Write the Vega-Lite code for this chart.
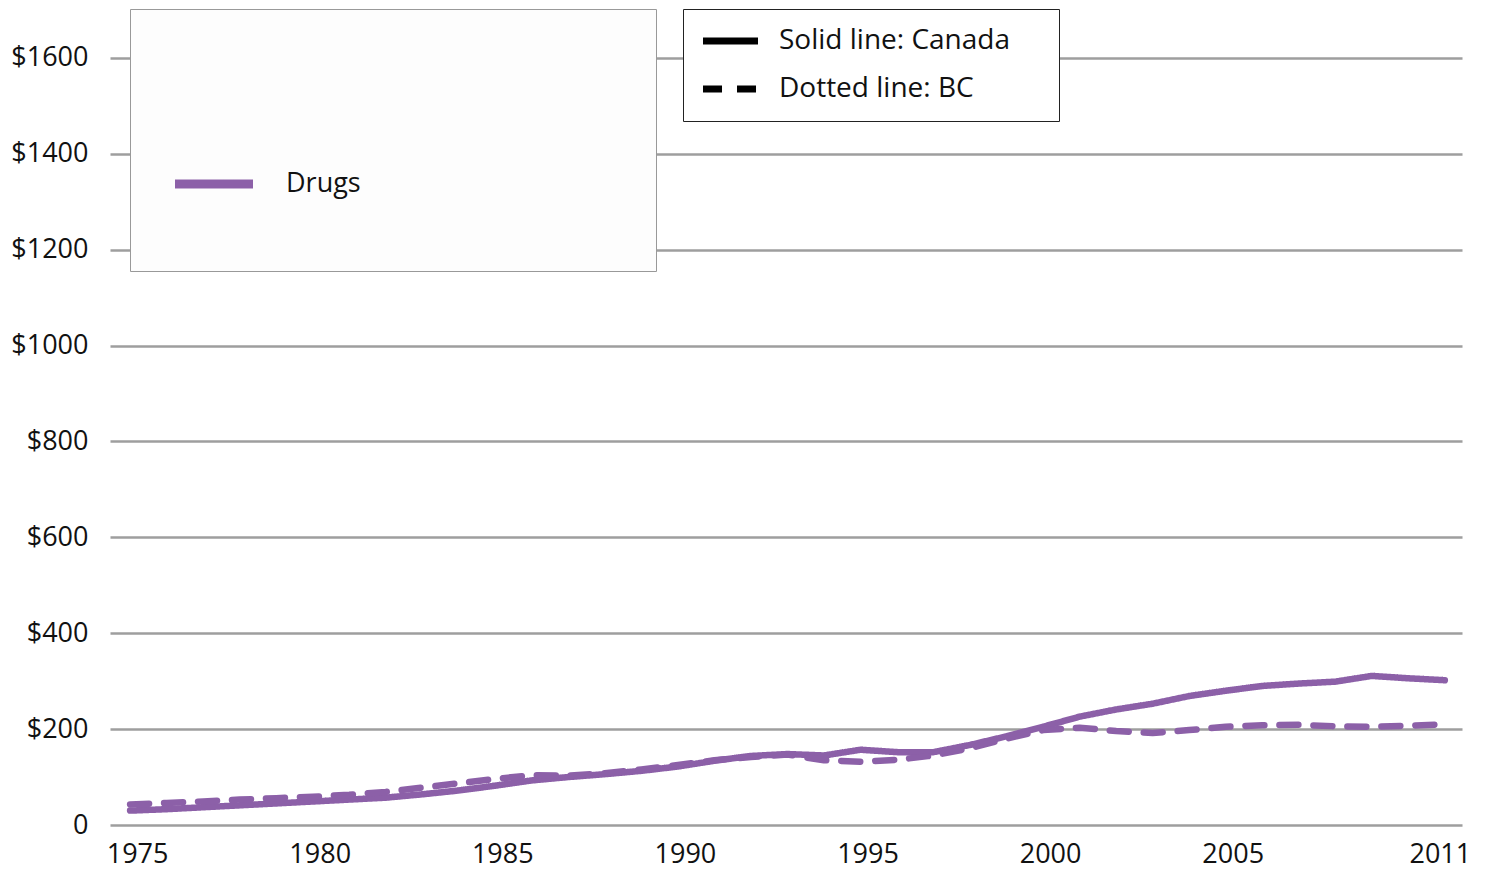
{
  "$schema": "https://vega.github.io/schema/vega-lite/v6.json",
  "width": 1352,
  "height": 815,
  "autosize": "none",
  "padding": {"left": 110, "top": 10, "right": 25, "bottom": 46},
  "background": "white",
  "config": {
    "font": "Open Sans",
    "view": {"stroke": null}
  },
  "data": {
    "values": [
      {"year":1975,"region":"Canada","cat":"Drugs","cost":30},
      {"year":1976,"region":"Canada","cat":"Drugs","cost":33},
      {"year":1977,"region":"Canada","cat":"Drugs","cost":37},
      {"year":1978,"region":"Canada","cat":"Drugs","cost":41},
      {"year":1979,"region":"Canada","cat":"Drugs","cost":45},
      {"year":1980,"region":"Canada","cat":"Drugs","cost":49},
      {"year":1981,"region":"Canada","cat":"Drugs","cost":53},
      {"year":1982,"region":"Canada","cat":"Drugs","cost":57},
      {"year":1983,"region":"Canada","cat":"Drugs","cost":64},
      {"year":1984,"region":"Canada","cat":"Drugs","cost":72},
      {"year":1985,"region":"Canada","cat":"Drugs","cost":82},
      {"year":1986,"region":"Canada","cat":"Drugs","cost":93},
      {"year":1987,"region":"Canada","cat":"Drugs","cost":100},
      {"year":1988,"region":"Canada","cat":"Drugs","cost":106},
      {"year":1989,"region":"Canada","cat":"Drugs","cost":113},
      {"year":1990,"region":"Canada","cat":"Drugs","cost":122},
      {"year":1991,"region":"Canada","cat":"Drugs","cost":134},
      {"year":1992,"region":"Canada","cat":"Drugs","cost":144},
      {"year":1993,"region":"Canada","cat":"Drugs","cost":148},
      {"year":1994,"region":"Canada","cat":"Drugs","cost":145},
      {"year":1995,"region":"Canada","cat":"Drugs","cost":157},
      {"year":1996,"region":"Canada","cat":"Drugs","cost":152},
      {"year":1997,"region":"Canada","cat":"Drugs","cost":152},
      {"year":1998,"region":"Canada","cat":"Drugs","cost":167},
      {"year":1999,"region":"Canada","cat":"Drugs","cost":185},
      {"year":2000,"region":"Canada","cat":"Drugs","cost":205},
      {"year":2001,"region":"Canada","cat":"Drugs","cost":226},
      {"year":2002,"region":"Canada","cat":"Drugs","cost":241},
      {"year":2003,"region":"Canada","cat":"Drugs","cost":253},
      {"year":2004,"region":"Canada","cat":"Drugs","cost":269},
      {"year":2005,"region":"Canada","cat":"Drugs","cost":280},
      {"year":2006,"region":"Canada","cat":"Drugs","cost":290},
      {"year":2007,"region":"Canada","cat":"Drugs","cost":295},
      {"year":2008,"region":"Canada","cat":"Drugs","cost":299},
      {"year":2009,"region":"Canada","cat":"Drugs","cost":311},
      {"year":2010,"region":"Canada","cat":"Drugs","cost":306},
      {"year":2011,"region":"Canada","cat":"Drugs","cost":302},
      {"year":1975,"region":"BC","cat":"Drugs","cost":43},
      {"year":1976,"region":"BC","cat":"Drugs","cost":46},
      {"year":1977,"region":"BC","cat":"Drugs","cost":49},
      {"year":1978,"region":"BC","cat":"Drugs","cost":53},
      {"year":1979,"region":"BC","cat":"Drugs","cost":56},
      {"year":1980,"region":"BC","cat":"Drugs","cost":59},
      {"year":1981,"region":"BC","cat":"Drugs","cost":63},
      {"year":1982,"region":"BC","cat":"Drugs","cost":69},
      {"year":1983,"region":"BC","cat":"Drugs","cost":78},
      {"year":1984,"region":"BC","cat":"Drugs","cost":87},
      {"year":1985,"region":"BC","cat":"Drugs","cost":96},
      {"year":1986,"region":"BC","cat":"Drugs","cost":104},
      {"year":1987,"region":"BC","cat":"Drugs","cost":103},
      {"year":1988,"region":"BC","cat":"Drugs","cost":108},
      {"year":1989,"region":"BC","cat":"Drugs","cost":116},
      {"year":1990,"region":"BC","cat":"Drugs","cost":125},
      {"year":1991,"region":"BC","cat":"Drugs","cost":135},
      {"year":1992,"region":"BC","cat":"Drugs","cost":142},
      {"year":1993,"region":"BC","cat":"Drugs","cost":147},
      {"year":1994,"region":"BC","cat":"Drugs","cost":135},
      {"year":1995,"region":"BC","cat":"Drugs","cost":132},
      {"year":1996,"region":"BC","cat":"Drugs","cost":136},
      {"year":1997,"region":"BC","cat":"Drugs","cost":145},
      {"year":1998,"region":"BC","cat":"Drugs","cost":160},
      {"year":1999,"region":"BC","cat":"Drugs","cost":180},
      {"year":2000,"region":"BC","cat":"Drugs","cost":198},
      {"year":2001,"region":"BC","cat":"Drugs","cost":203},
      {"year":2002,"region":"BC","cat":"Drugs","cost":196},
      {"year":2003,"region":"BC","cat":"Drugs","cost":192},
      {"year":2004,"region":"BC","cat":"Drugs","cost":198},
      {"year":2005,"region":"BC","cat":"Drugs","cost":205},
      {"year":2006,"region":"BC","cat":"Drugs","cost":208},
      {"year":2007,"region":"BC","cat":"Drugs","cost":209},
      {"year":2008,"region":"BC","cat":"Drugs","cost":206},
      {"year":2009,"region":"BC","cat":"Drugs","cost":205},
      {"year":2010,"region":"BC","cat":"Drugs","cost":207},
      {"year":2011,"region":"BC","cat":"Drugs","cost":210}
    ]
  },
  "mark": {"type": "line", "strokeWidth": 6.5, "strokeCap": "round", "strokeJoin": "round"},
  "encoding": {
    "x": {
      "field": "year", "type": "quantitative",
      "scale": {"domain": [1974.45, 2011.47], "nice": false, "zero": false},
      "axis": {
        "title": null,
        "values": [1975, 1980, 1985, 1990, 1995, 2000, 2005, 2011],
        "format": "d",
        "grid": false, "domain": false, "ticks": false,
        "labelFontSize": 27, "labelColor": "#111", "labelPadding": 16,
        "labelOffset": {"condition": {"test": "datum.value == 2011", "value": -5}, "value": 7},
        "labelFlush": false
      }
    },
    "y": {
      "field": "cost", "type": "quantitative",
      "scale": {"domain": [0, 1700], "nice": false},
      "axis": {
        "title": null,
        "values": [0, 200, 400, 600, 800, 1000, 1200, 1400, 1600],
        "labelExpr": "datum.value == 0 ? '0' : '$' + datum.value",
        "grid": true, "gridColor": "#9e9e9e", "gridWidth": 2.5,
        "domain": false, "ticks": false,
        "labelFontSize": 27, "labelColor": "#111", "labelPadding": 22
      }
    },
    "color": {
      "field": "cat", "type": "nominal",
      "scale": {"domain": ["Drugs"], "range": ["#8c60a8"]},
      "legend": {
        "orient": "none", "legendX": 20, "legendY": -1,
        "title": null,
        "symbolType": "M 2.5794 0.3614 M -0.243 0 L 0.243 0",
        "symbolSize": 103041, "symbolStrokeWidth": 9,
        "symbolOffset": -91,
        "symbolDash": [1, 0],
        "labelFontSize": 27, "labelColor": "#111", "labelOffset": -93,
        "labelLimit": 400,
        "padding": 10,
        "strokeColor": "#999", "fillColor": "#fdfdfd"
      }
    },
    "strokeDash": {
      "field": "region", "type": "nominal",
      "scale": {"domain": ["Canada", "BC"], "range": [[1, 0], [19, 15]]},
      "legend": {
        "orient": "none", "legendX": 573, "legendY": -1,
        "title": null,
        "symbolType": "M 14.951 0.44 M -1.341 0 L 1.341 0",
        "symbolSize": 1681, "symbolStrokeWidth": 7,
        "symbolOffset": 15.5,
        "symbolStrokeColor": "black",
        "labelFontSize": 28, "labelColor": "#111", "labelOffset": 24.5,
        "labelExpr": "datum.label == 'Canada' ? 'Solid line: Canada' : 'Dotted line: BC'",
        "labelLimit": 400,
        "rowPadding": -3,
        "padding": 8,
        "strokeColor": "#222", "fillColor": "white"
      }
    }
  }
}
